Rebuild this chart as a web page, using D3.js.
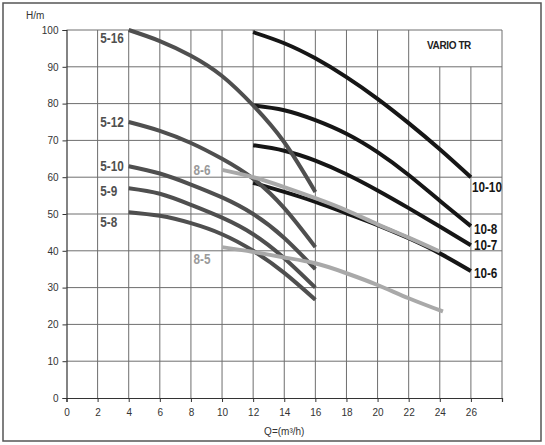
<!DOCTYPE html>
<html>
<head>
<meta charset="utf-8">
<script src="https://cdn.jsdelivr.net/npm/d3@7/dist/d3.min.js"></script>
<style>
body{margin:0;background:#fff;}
svg{display:block;}
.tick text{font-family:"Liberation Sans",Arial,sans-serif;font-size:10px;fill:#333;}
.lbl{font-family:"Liberation Sans",Arial,sans-serif;font-weight:bold;font-size:14px;}
</style>
</head>
<body>
<script>
// pump curves, Q in m3/h, H in m
var q5=[4,6,8,10,12,14,16]
var h5_16=[100,97,93,87.5,79.5,69.5,56]
var h5_12=[75,72.6,69.3,65,59.6,51.6,41]
var h5_10=[63,61,58,54.5,50,43.5,35]
var h5_9=[57,55.5,52.5,49,44.5,38,30]
var h5_8=[50.5,49.5,47.5,44.5,40,34,26.7]
var q8_6=[10,12,14,16,18,20,22,24]
var h8_6=[62,60,57.3,54.3,51,47.2,43.6,39.8]
var q8_5=[10,12,14,16,18,20,22,24.2]
var h8_5=[41,39.7,38.2,36.6,33.9,30.7,27.1,23.5]
var q10=[12,14,16,18,20,22,24,26]
var h10_10=[99.4,96.4,92.3,87.2,81.3,74.7,67.6,60]
var h10_8=[79.5,78.2,75.5,71.8,66.8,60.6,53.6,46.7]
var h10_7=[68.7,67.2,64.5,60.8,56.4,51.6,46.6,41.5]
var h10_6=[58.5,56,53.3,50.2,47,43.4,39.3,34.5]
var xTicks=[0,2,4,6,8,10,12,14,16,18,20,22,24,26]
var yTicks=[0,10,20,30,40,50,60,70,80,90,100]
var title="VARIO TR"

var W=545,H=445
var svg=d3.select("body").append("svg").attr("width",W).attr("height",H)

svg.append("rect").attr("x",3).attr("y",3).attr("width",538).attr("height",438)
   .attr("fill","none").attr("stroke","#555").attr("stroke-width",1.5)

var x=d3.scaleLinear().domain([0,28]).range([66.5,502])
var y=d3.scaleLinear().domain([0,100]).range([398,30])

var grid=svg.append("g").attr("stroke","#6e6e6e").attr("stroke-width",1)
// vertical grid, the 24 and 26 lines stop under the title box
d3.range(2,29,2).forEach(function(v){
  var top=(v==24||v==26)?y(90):y(100)
  grid.append("line").attr("x1",x(v)).attr("x2",x(v)).attr("y1",y(0)).attr("y2",top)
})
d3.range(10,101,10).forEach(function(v){
  grid.append("line").attr("x1",x(0)).attr("x2",x(28)).attr("y1",y(v)).attr("y2",y(v))
})

var yAxis=svg.append("g").attr("transform","translate("+x(0)+",0)")
  .call(d3.axisLeft(y).tickValues(yTicks).tickSize(4).tickPadding(4))
var xAxis=svg.append("g").attr("transform","translate(0,"+y(0)+")")
  .call(d3.axisBottom(x).tickValues(xTicks.concat([28])).tickSize(4).tickPadding(7)
    .tickFormat(function(d){return d==28?"":d}))
svg.selectAll(".domain").attr("stroke","#333").attr("stroke-width",1.2)
svg.selectAll(".tick line").attr("stroke","#333")

svg.append("text").attr("x",26).attr("y",19).text("H/m")
   .attr("font-family","Liberation Sans, Arial, sans-serif").attr("font-size",10).attr("fill","#333")
svg.append("text").attr("x",(x(0)+x(28))/2).attr("y",435).attr("text-anchor","middle")
   .attr("font-family","Liberation Sans, Arial, sans-serif").attr("font-size",10).attr("fill","#333")
   .text("Q=(m³/h)")
svg.append("text").attr("x",449).attr("y",49).attr("text-anchor","middle")
   .attr("font-family","Liberation Sans, Arial, sans-serif").attr("font-weight","bold")
   .attr("font-size",10).attr("letter-spacing",-0.4).attr("fill","#222").text(title)

var series=[
  {name:"10-10",q:q10,h:h10_10,c:"#161616"},
  {name:"10-8",q:q10,h:h10_8,c:"#161616"},
  {name:"10-7",q:q10,h:h10_7,c:"#161616"},
  {name:"10-6",q:q10,h:h10_6,c:"#161616"},
  {name:"5-16",q:q5,h:h5_16,c:"#4f4f4f"},
  {name:"5-12",q:q5,h:h5_12,c:"#4f4f4f"},
  {name:"5-10",q:q5,h:h5_10,c:"#4f4f4f"},
  {name:"5-9",q:q5,h:h5_9,c:"#4f4f4f"},
  {name:"5-8",q:q5,h:h5_8,c:"#4f4f4f"},
  {name:"8-6",q:q8_6,h:h8_6,c:"#a9a9a9"},
  {name:"8-5",q:q8_5,h:h8_5,c:"#a9a9a9"}
]

var line=d3.line().x(function(d){return x(d[0])}).y(function(d){return y(d[1])}).curve(d3.curveNatural)

svg.append("g").selectAll("path").data(series).enter().append("path")
  .attr("d",function(d){return line(d3.zip(d.q,d.h))})
  .attr("fill","none").attr("stroke",function(d){return d.c}).attr("stroke-width",4)

// labels: 5-x and 8-x at curve start, 10-x at curve end (condensed by scaleX)
var dy={"5-16":13,"5-12":5,"5-10":5,"5-9":8,"5-8":15,"8-6":5,"8-5":17,"10-10":15,"10-8":8,"10-7":5,"10-6":7}
svg.append("g").selectAll("text").data(series).enter().append("text")
  .attr("class","lbl")
  .attr("transform",function(d){
    var is10=d.name.indexOf("10-")==0
    var px=is10?x(d.q[d.q.length-1])+(d.name=="10-10"?1:3):x(d.q[0])-28.5
    var v=is10?d.h[d.h.length-1]:d.h[0]
    return "translate("+px+","+(y(v)+dy[d.name])+") scale(0.84,1)"
  })
  .attr("fill",function(d){return d.c=="#a9a9a9"?"#9a9a9a":d.c})
  .text(function(d){return d.name})
</script>
</body>
</html>
